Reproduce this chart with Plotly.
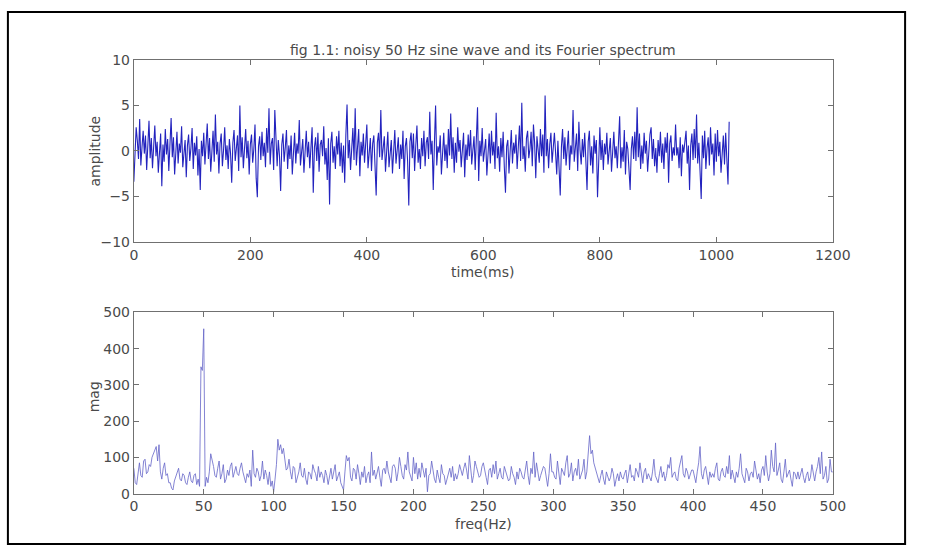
import plotly.graph_objects as go

# ---- data read (estimated) from the reference picture ----
# noisy 50 Hz sine wave, one value every 2 ms (0 .. 1022 ms)
time_ms = list(range(0, 1023, 2))
amplitude = [
    -3.4, 0.8, 2.6, 1.1, -0.9, 3.5, -1.6, 0.4, 2.2, -0.3, 1.7, -2.1, 0.6, 3.3, -0.8, 1.4,
    -1.9, 0.2, 2.8, -0.6, 1.0, -2.4, 0.5, 1.9, -3.9, 0.7, -1.2, 2.4, -0.4, 1.3, -2.2, 0.9,
    3.6, -0.7, 1.5, -2.6, 0.3, 2.1, -1.4, 0.8, -0.2, 2.7, -1.8, 0.4, 1.2, -2.9, 0.6, 1.8,
    -1.1, 0.3, 2.5, -2.0, 0.9, -0.5, 1.6, -2.7, 0.2, -4.3, 1.1, -0.6, 2.0, -1.5, 0.7, 3.0,
    -0.9, 1.4, -2.3, 0.5, 2.2, -1.2, 4.0, -0.4, 1.0, -2.5, 0.8, 1.9, -1.7, 0.1, 2.6, -1.0,
    0.6, -2.0, 1.3, -0.3, -3.5, 0.9, 2.3, -1.1, 0.4, 1.7, -2.2, 5.0, -0.7, 1.5, -1.9, 0.3,
    2.4, -0.8, 1.1, -2.6, 0.7, 1.8, -1.3, 0.2, 2.9, -3.0, -5.1, 0.5, 1.6, -1.0, 2.1, -0.6,
    0.9, -1.8, 2.5, -0.2, 4.7, -1.5, 0.8, 1.4, -2.1, 4.5, 0.3, -1.7, 1.2, -0.5, -4.4, 0.7,
    1.9, -1.2, 0.4, 2.3, -2.0, 0.6, -0.9, 1.7, -2.6, 0.3, 2.0, -1.4, 0.8, -0.3, 3.4, -1.6,
    0.5, 1.3, -2.4, 0.2, 2.2, -0.7, 1.0, -1.9, 0.6, 2.6, -4.6, 0.4, 1.5, -1.1, 2.0, -2.3,
    0.7, 1.2, -0.6, 2.7, -1.5, 0.3, -3.2, 1.4, -5.9, 0.8, 2.1, -1.3, 0.5, -2.0, 1.6, -0.4,
    2.2, -1.7, 0.9, -2.4, 0.6, -3.5, 1.8, 5.1, -0.8, 1.2, -2.1, 0.4, 2.5, -1.0, 4.7, -1.6,
    0.3, 2.4, -2.8, 1.0, -0.5, 1.9, -1.3, 0.7, 2.9, -1.9, 0.2, 1.4, -2.2, 0.8, 1.7, -1.1,
    -4.9, 0.9, 2.0, -0.7, 4.5, -1.0, 0.4, 1.6, -2.3, 0.6, 2.1, -1.8, 0.3, 1.2, -2.5, 0.8,
    2.3, -1.4, 0.1, 1.5, -2.0, 0.7, -0.9, 2.2, -3.1, 0.5, 1.4, -1.2, -6.0, 1.0, 2.0, -0.8,
    1.9, -2.2, 0.6, 2.8, -1.3, 0.2, -2.0, 1.4, -0.6, 2.2, -1.7, 0.9, 1.5, -0.9, 4.3, -0.4,
    1.1, -4.3, 0.8, 5.0, -1.6, 0.5, -0.2, 1.7, -2.6, 0.4, 2.0, -1.1, 0.7, -1.9, 2.4, -0.5,
    4.1, -0.9, 1.5, -2.4, 0.9, -1.3, 2.6, -0.1, 1.2, -1.8, 0.3, 2.0, -2.9, 0.7, -1.0, 1.8,
    -0.6, 2.3, -1.5, 0.4, 1.6, -2.1, 0.8, 4.8, -3.3, 1.1, -0.6, 2.5, -1.2, 0.1, 1.3, -2.7,
    0.6, 1.9, -1.4, 2.2, -0.5, 1.0, -2.0, 4.2, -0.8, 0.5, -2.3, 1.4, -0.7, 2.1, -1.8, -4.6,
    0.5, 1.2, -2.5, 0.2, 2.3, -1.4, 0.9, -0.3, 1.8, -2.0, 0.4, 2.8, -1.1, 5.3, -0.9, 0.5,
    -2.3, 1.4, 2.2, -0.8, 0.2, 2.1, -1.7, 2.9, 0.9, -3.0, 1.6, 0.3, -1.3, 2.4, -0.6, 1.8,
    -2.4, 6.1, -0.6, 1.3, -1.9, 0.7, 2.0, -1.3, 0.4, 2.0, -0.2, -2.6, 1.1, -1.8, -4.9, 0.4,
    2.4, -0.9, 1.5, -1.6, 0.8, 2.2, -2.1, 0.6, -0.4, 4.5, -1.2, 0.6, 1.9, -2.2, 3.2, 0.1,
    -1.5, 1.3, -0.7, 2.0, -1.0, -4.3, 1.0, 2.2, -1.6, 0.5, -2.5, 1.7, -0.3, 1.2, -5.1, 0.3,
    2.6, -1.0, 1.2, -2.1, 0.8, -0.4, 2.0, -1.5, 0.6, 1.4, -2.3, 0.9, 2.1, -0.8, 0.5, -1.9,
    1.1, 3.8, -1.9, 0.4, -1.2, 2.3, -2.6, 1.0, 0.2, -1.6, -4.3, 0.2, 1.6, -0.9, 2.1, -1.1,
    4.8, -0.7, 1.9, -2.0, 0.6, -1.4, 2.0, -0.3, 1.1, -2.3, 0.5, 1.8, 2.6, -0.9, 1.3, -1.7,
    0.3, -2.4, 1.2, -0.6, 2.1, -1.3, 0.8, -2.0, 1.5, -0.2, 2.0, -3.5, 0.8, 1.7, -1.1, 0.4,
    -0.5, 2.9, -0.5, 0.4, -1.9, 1.5, -2.8, 0.7, -0.2, 1.3, 2.2, -1.4, 0.6, -4.3, 0.6, 1.9,
    -1.0, 2.4, -0.8, 4.0, -1.4, 0.9, -2.2, -5.3, 1.7, -0.8, 2.2, -2.0, 0.3, 1.5, -1.6, 2.6,
    -0.4, 0.8, -2.7, 1.9, -1.2, 2.3, -0.6, 1.0, -2.4, 0.5, 1.7, -1.5, 2.0, -0.9, -3.7, 3.2,
]

# Fourier magnitude, one value per Hz (0 .. 500 Hz)
freq_hz = list(range(0, 501))
magnitude = [
    70, 30, 25, 60, 85, 50, 45, 90, 95, 55, 60, 80, 75, 100, 110, 125, 130, 90, 135, 60, 40, 70, 85, 50, 55,
    30, 30, 15, 10, 35, 45, 60, 70, 40, 35, 55, 50, 30, 25, 45, 60, 35, 30, 50, 55, 25, 40, 20, 350, 340,
    455, 20, 45, 30, 60, 110, 95, 75, 50, 45, 70, 90, 40, 55, 80, 30, 40, 65, 50, 75, 85, 45, 60, 75, 55,
    50, 70, 85, 60, 40, 30, 55, 45, 65, 20, 120, 55, 45, 70, 60, 35, 50, 90, 40, 65, 50, 25, 60, 20, 35,
    5, 40, 80, 150, 120, 135, 110, 125, 90, 65, 70, 95, 60, 40, 75, 70, 30, 45, 60, 85, 50, 45, 70, 40, 25,
    60, 55, 40, 80, 65, 55, 35, 75, 45, 60, 50, 30, 65, 50, 25, 55, 70, 40, 60, 80, 35, 45, 60, 30, 20,
    10, 60, 105, 90, 100, 45, 35, 70, 65, 40, 80, 55, 25, 60, 45, 75, 30, 50, 60, 30, 115, 50, 65, 40, 55,
    75, 45, 20, 65, 70, 55, 90, 60, 45, 30, 75, 80, 70, 35, 60, 100, 75, 50, 40, 80, 65, 115, 60, 50, 35,
    100, 55, 85, 40, 70, 45, 85, 60, 45, 70, 5, 50, 55, 90, 65, 40, 30, 65, 45, 30, 80, 55, 50, 25, 40,
    60, 70, 45, 75, 35, 55, 40, 55, 80, 60, 50, 70, 85, 65, 40, 105, 70, 30, 50, 90, 75, 55, 45, 50, 75,
    85, 60, 45, 25, 65, 70, 45, 80, 55, 90, 40, 55, 70, 45, 40, 75, 60, 50, 35, 40, 75, 55, 45, 25, 60,
    40, 70, 60, 45, 40, 65, 90, 50, 25, 70, 55, 115, 45, 85, 60, 35, 50, 60, 75, 70, 40, 20, 55, 110, 60,
    60, 45, 40, 90, 55, 25, 70, 60, 50, 85, 105, 45, 55, 85, 35, 60, 70, 50, 95, 40, 55, 65, 95, 40, 60,
    120, 160, 110, 120, 85, 70, 55, 45, 30, 50, 65, 40, 25, 60, 50, 35, 45, 70, 55, 20, 40, 55, 35, 60, 45,
    40, 55, 65, 30, 50, 80, 45, 50, 35, 70, 60, 45, 85, 55, 30, 60, 70, 40, 55, 45, 35, 60, 95, 50, 40,
    30, 55, 75, 45, 60, 35, 50, 80, 70, 100, 45, 55, 60, 40, 35, 70, 85, 105, 55, 45, 70, 60, 40, 50, 65,
    65, 45, 30, 60, 85, 130, 55, 40, 65, 75, 50, 25, 60, 45, 55, 45, 70, 85, 40, 35, 60, 70, 50, 45, 75,
    55, 105, 40, 65, 50, 30, 60, 45, 70, 110, 55, 45, 30, 70, 60, 35, 55, 60, 45, 90, 70, 40, 55, 30, 65,
    75, 50, 105, 60, 35, 55, 120, 75, 60, 140, 50, 65, 85, 40, 30, 60, 95, 45, 55, 65, 40, 20, 60, 55, 40,
    60, 40, 55, 70, 45, 30, 50, 60, 35, 45, 80, 55, 35, 60, 75, 100, 55, 115, 40, 50, 75, 30, 40, 95, 60,
    60,
]

time_ticks = [0, 200, 400, 600, 800, 1000, 1200]
amp_ticks = [-10, -5, 0, 5, 10]
freq_ticks = [0, 50, 100, 150, 200, 250, 300, 350, 400, 450, 500]
mag_ticks = [0, 100, 200, 300, 400, 500]

TITLE = "fig 1.1: noisy 50 Hz sine wave and its Fourier spectrum"

W, H = 927, 556
FONT = "DejaVu Sans, Liberation Sans, Arial, sans-serif"
TXT = "#4a4a4a"
AX = "#707070"
FS = 14


def px(x):
    return x / W


def py(y):
    return 1 - y / H


fig = go.Figure()
fig.add_trace(go.Scatter(x=time_ms, y=amplitude, mode="lines",
                         line=dict(color="rgb(35,35,190)", width=1.1),
                         xaxis="x", yaxis="y", showlegend=False, hoverinfo="skip"))
fig.add_trace(go.Scatter(x=freq_hz, y=magnitude, mode="lines",
                         line=dict(color="rgb(100,100,200)", width=0.8),
                         xaxis="x2", yaxis="y2", showlegend=False, hoverinfo="skip"))

axis_common = dict(showline=True, linecolor=AX, linewidth=1, mirror="ticks",
                   ticks="inside", ticklen=5, tickcolor=AX, showgrid=False,
                   zeroline=False, tickfont=dict(family=FONT, size=FS, color=TXT))


def label(text, x, y, angle=0):
    return dict(text=text, x=px(x), y=py(y), xref="paper", yref="paper",
                xanchor="center", yanchor="middle", showarrow=False,
                textangle=angle, font=dict(family=FONT, size=FS, color=TXT))


fig.update_layout(
    width=W, height=H, margin=dict(l=0, r=0, t=0, b=0),
    paper_bgcolor="white", plot_bgcolor="white",
    xaxis=dict(domain=[px(133), px(849)], range=[0, 1200], tickvals=time_ticks,
               anchor="y", **axis_common),
    yaxis=dict(domain=[py(240.7), py(53.5)], range=[-10, 10], tickvals=amp_ticks,
               anchor="x", **axis_common),
    xaxis2=dict(domain=[px(133), px(849)], range=[0, 500], tickvals=freq_ticks,
                anchor="y2", **axis_common),
    yaxis2=dict(domain=[py(500), py(313.5)], range=[0, 500], tickvals=mag_ticks,
                anchor="x2", **axis_common),
    shapes=[dict(type="rect", xref="paper", yref="paper",
                 x0=px(4), x1=px(923), y0=py(552), y1=py(4),
                 line=dict(color="black", width=2))],
    annotations=[
        label(TITLE, 491, 43),
        label("time(ms)", 491, 272),
        label("amplitude", 93, 147, -90),
        label("freq(Hz)", 491, 531),
        label("mag", 93, 400, -90),
    ],
)

fig.write_html("out.html")
